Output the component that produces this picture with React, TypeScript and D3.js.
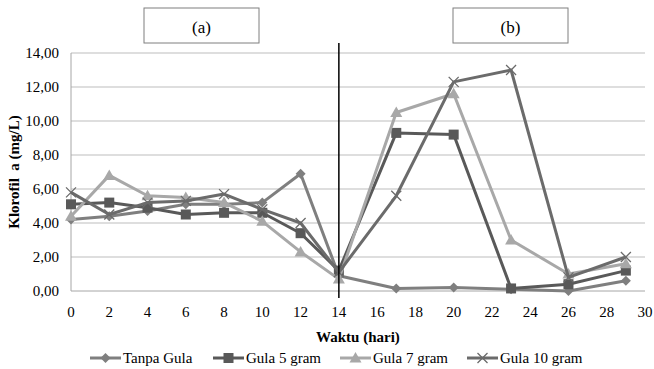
import React from "react";
import * as d3 from "d3";

const days = [0, 2, 4, 6, 8, 10, 12, 14, 17, 20, 23, 26, 29];
const tanpaGula = [4.2, 4.4, 4.7, 5.1, 5.1, 5.2, 6.9, 0.9, 0.15, 0.2, 0.1, 0.0, 0.6];
const gula5 = [5.1, 5.2, 4.9, 4.5, 4.6, 4.6, 3.4, 1.2, 9.3, 9.2, 0.15, 0.4, 1.2];
const gula7 = [4.4, 6.8, 5.6, 5.5, 5.2, 4.1, 2.3, 0.7, 10.5, 11.6, 3.0, 1.0, 1.6];
const gula10 = [5.8, 4.5, 5.2, 5.3, 5.7, 4.8, 4.0, 1.1, 5.6, 12.3, 13.0, 0.8, 2.0];
const seriesNames = ["Tanpa Gula", "Gula 5 gram", "Gula 7 gram", "Gula 10 gram"];
const xTicks = [0, 2, 4, 6, 8, 10, 12, 14, 16, 18, 20, 22, 24, 26, 28, 30];
const yTicks = [0, 2, 4, 6, 8, 10, 12, 14];
const panelLabels = ["(a)", "(b)"];

const W = 654, H = 369;
const L = 71, R = 645, T = 53, B = 291;
const font = '"Liberation Serif"';

const colors = ["#7f7f7f", "#595959", "#a8a8a8", "#6b6b6b"];
const markers = ["diamond", "square", "triangle", "x"];

function Marker({ type, x, y, color }: { type: string; x: number; y: number; color: string }) {
  if (type === "diamond") {
    const s = 5;
    return <path d={`M${x},${y - s}L${x + s},${y}L${x},${y + s}L${x - s},${y}Z`} fill={color} />;
  }
  if (type === "square") {
    const s = 5;
    return <rect x={x - s} y={y - s} width={2 * s} height={2 * s} fill={color} />;
  }
  if (type === "triangle") {
    const s = 6;
    return <path d={`M${x},${y - s}L${x + s},${y + s * 0.75}L${x - s},${y + s * 0.75}Z`} fill={color} />;
  }
  const s = 5;
  return (
    <path d={`M${x - s},${y - s}L${x + s},${y + s}M${x + s},${y - s}L${x - s},${y + s}`} stroke={color} strokeWidth={1.3} fill="none" />
  );
}

export default function App() {
  const x = d3.scaleLinear().domain([0, 30]).range([L, R]);
  const y = d3.scaleLinear().domain([0, 14]).range([B, T]);
  const all = [tanpaGula, gula5, gula7, gula10];
  const line = d3
    .line<number>()
    .x((_, i) => x(days[i]))
    .y((d) => y(d));
  const fmt = (v: number) => v.toFixed(2).replace(".", ",");
  const legendX = [90, 213, 340, 467];
  const legendY = 358;
  const order = [0, 1, 2, 3];
  const ts: React.CSSProperties = { fontFamily: font };

  return (
    <svg width={W} height={H} style={{ position: "absolute", left: 0, top: 0, background: "#fff" }}>
      {yTicks.map((t) => (
        <line key={"g" + t} x1={L} x2={R} y1={y(t)} y2={y(t)} stroke={t === 0 ? "#a6a6a6" : "#bdbdbd"} strokeWidth={1} />
      ))}
      <line x1={L} x2={L} y1={T} y2={B} stroke="#a6a6a6" strokeWidth={1} />
      {yTicks.map((t) => (
        <text key={"yl" + t} style={ts} x={L - 12} y={y(t)} dy="0.35em" textAnchor="end" fontSize={15} fill="#000">
          {fmt(t)}
        </text>
      ))}
      {xTicks.map((t) => (
        <text key={"xl" + t} style={ts} x={x(t)} y={312} dy="0.35em" textAnchor="middle" fontSize={15} fill="#000">
          {t}
        </text>
      ))}
      <text style={ts} x={358} y={337} dy="0.35em" textAnchor="middle" fontSize={15} fontWeight="bold">
        Waktu (hari)
      </text>
      <text
        style={{ ...ts, whiteSpace: "pre" }}
        transform={`translate(14,${(T + B) / 2}) rotate(-90)`}
        dy="0.35em"
        textAnchor="middle"
        fontSize={15}
        fontWeight="bold"
      >
        {"Klorofil  a (mg/L)"}
      </text>
      {order.map((si) => (
        <g key={"s" + si}>
          <path d={line(all[si]) || ""} fill="none" stroke={colors[si]} strokeWidth={3} strokeLinejoin="round" />
          {all[si].map((v, i) => (
            <Marker key={i} type={markers[si]} x={x(days[i])} y={y(v)} color={colors[si]} />
          ))}
        </g>
      ))}
      <line x1={x(14)} x2={x(14)} y1={43} y2={298} stroke="#000" strokeWidth={1.5} />
      <rect x={144} y={8} width={115} height={35} fill="#fff" stroke="#7f7f7f" strokeWidth={1} />
      <text style={ts} x={201.5} y={27} dy="0.35em" textAnchor="middle" fontSize={17}>
        {panelLabels[0]}
      </text>
      <rect x={453} y={8} width={115} height={35} fill="#fff" stroke="#7f7f7f" strokeWidth={1} />
      <text style={ts} x={510.5} y={27} dy="0.35em" textAnchor="middle" fontSize={17}>
        {panelLabels[1]}
      </text>
      {seriesNames.map((n, i) => (
        <g key={"lg" + i}>
          <line x1={legendX[i]} x2={legendX[i] + 31} y1={legendY} y2={legendY} stroke={colors[i]} strokeWidth={3} />
          <Marker type={markers[i]} x={legendX[i] + 15.5} y={legendY} color={colors[i]} />
          <text style={ts} x={legendX[i] + 33} y={legendY} dy="0.35em" fontSize={15}>
            {n}
          </text>
        </g>
      ))}
    </svg>
  );
}
